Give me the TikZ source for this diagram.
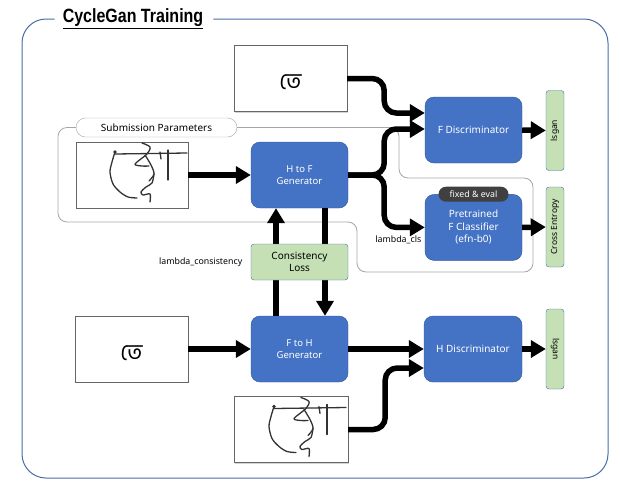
\documentclass[tikz,border=0pt]{standalone}
\usepackage{fontspec}
\setmainfont{Noto Sans}
\newfontfamily\titlefont{Liberation Sans}
\newfontfamily\bnfont[Script=Bengali]{Hind Siliguri}
\usetikzlibrary{arrows.meta,positioning,shadows}

\definecolor{netblue}{HTML}{4472C4}
\definecolor{netedge}{HTML}{2F5597}
\definecolor{lossgreen}{HTML}{C5E0B4}
\definecolor{lossedge}{HTML}{41719C}
\definecolor{framecol}{HTML}{4A6DA7}

\begin{document}
\begin{tikzpicture}[x=1pt, y=-1pt,
  net/.style={draw=netedge, fill=netblue, rounded corners=9pt, text=white, align=center, minimum width=97pt, minimum height=66pt, font=\fontsize{10}{12.5}\selectfont},
  gen/.style={net, font=\fontsize{9.5}{12}\selectfont},
  loss/.style={draw=lossedge, fill=lossgreen, rounded corners=3pt, align=center, font=\fontsize{10}{12}\selectfont},
  vloss/.style={loss, minimum width=80pt, minimum height=18pt, inner sep=1pt, font=\fontsize{8.5}{10}\selectfont},
  sample/.style={draw=gray!80!black, fill=white, minimum width=113pt, minimum height=66pt, drop shadow={shadow xshift=1pt, shadow yshift=-1pt, opacity=0.35, fill=gray}},
  param/.style={draw=gray!70, fill=white, rounded corners=9.5pt, minimum width=161pt, minimum height=19pt, inner sep=0pt, font=\fontsize{10}{12}\selectfont},
  badge/.style={fill=black!75, text=white, rounded corners=7.5pt, minimum width=70pt, minimum height=15pt, inner sep=0pt, font=\fontsize{8.8}{10}\selectfont},
  tag/.style={font=\fontsize{8.8}{10}\selectfont},
  glyph/.style={font=\bnfont\fontsize{23}{24}\selectfont, yshift=-4pt},
  flow/.style={line width=5.5pt, -{Triangle[length=15pt, width=17pt]}},
  region/.style={draw=gray!70, line width=0.8pt, rounded corners=9pt},
  pen/.style={line width=1.3pt, black!80, line cap=round, line join=round}
]
\useasboundingbox (0,0) rectangle (620,488);

% frame and title
\node[font=\titlefont\bfseries\fontsize{16}{18}\selectfont, inner sep=2pt] (title) at (133,19) {\scalebox{1}[1.2]{\underline{CycleGan Training}}};
\draw[framecol, line width=1pt, rounded corners=24pt] ([xshift=-6pt]title.west) -- (22,19) -- (22,478) -- (608,478) -- (608,19) -- ([xshift=8pt]title.east);

% samples
\node[sample] (ftop) at (290.5,78.5) {};
\node[glyph] at (ftop) {তে};
\node[sample, minimum width=112pt] (htop) at (132,175) {};
\node[sample] (fbot) at (131.5,349) {};
\node[glyph] at (fbot) {তে};
\node[sample, minimum width=114pt] (hbot) at (291,429.5) {};

% networks
\node[gen] (hfgen) at (299.5,175) {H to F\\Generator};
\node[gen] (fhgen) at (299.5,349) {F to H\\Generator};
\node[net] (fdisc) at (473.5,130) {F Discriminator};
\node[net, below=31pt of fdisc] (fcls) {Pretrained\\F Classifier\\(efn-b0)};
\node[net, minimum width=98pt] (hdisc) at (473,349) {H Discriminator};
\node[badge] (fixed) at (fcls.north) {fixed \& eval};

% losses
\node[vloss, rotate=90] (lsganf) at (555,130.5) {lsgan};
\node[vloss, rotate=90] (xent) at (555,227) {Cross Entropy};
\node[vloss, rotate=-90] (lsganh) at (555,349) {lsgan};

% submission parameters
\node[param] (subpar) at (156.5,127.5) {Submission Parameters};
\draw[region] (subpar.west) -- (58,127.5) -- (58,222) -- (357,222) -- (357,272) -- (533,272) -- (533,178) -- (399,178) -- (399,127.5) -- (subpar.east);

% handwritten graphemes
\foreach \img in {htop,hbot} {
  \begin{scope}[shift={(\img.center)}]
    \draw[pen] (-17,-21) -- (55,-22);
    \draw[pen] plot[smooth] coordinates {(-17,-23) (-20,-13) (-22,-3) (-19,9) (-12,17) (-4,22) (5,23)};
    \fill[black!80] (-17,-23) circle (1.8);
    \draw[pen] plot[smooth] coordinates {(10,-32) (18,-28) (15,-21) (3,-11) (10,-9) (17,-9)};
    \draw[pen] plot[smooth] coordinates {(13,-20) (19,-10) (22,-1) (17,6)};
    \draw[pen] plot[smooth] coordinates {(22,-1) (20,8) (14,12) (9,17) (11,20) (18,19) (18,27)};
    \draw[pen] (36,-25) -- (36,5);
    \draw[pen] (28,-23) -- (29,-16);
  \end{scope}
}

% connections
\draw[flow, rounded corners=12pt] (ftop.east) -- ++(37,0) |- ([yshift=17pt]fdisc.west);
\draw[flow, rounded corners=12pt] (hfgen.east) -- ++(36,0) |- ([yshift=1pt]fdisc.west);
\draw[flow, rounded corners=12pt] (hfgen.east) -- ++(36,0) |- (fcls.west);
\draw[flow] (htop) -- (hfgen);
\draw[flow] (fdisc.east) -- (lsganf.north);
\draw[flow] (fcls.east) -- (xent.north);
\draw[flow] (fbot) -- (fhgen);
\draw[flow] (fhgen) -- (hdisc);
\draw[flow, rounded corners=12pt] (hbot.east) -- ++(37,0) |- ([yshift=-19pt]hdisc.west);
\draw[flow] (hdisc.east) -- (lsganh.south);
\draw[flow] ([xshift=-23.5pt]fhgen.north) -- ([xshift=-23.5pt]hfgen.south);
\draw[flow] ([xshift=25.5pt]hfgen.south) -- ([xshift=25.5pt]fhgen.north);

% cycle loss
\node[loss, minimum width=97pt, minimum height=36pt] (conloss) at (299.5,262) {Consistency\\Loss};
\node[tag, left=5pt of conloss] (lamcon) {lambda\_consistency};
\node[tag, anchor=north east] (lamcls) at ([yshift=-5pt]fcls.west) {lambda\_cls};
\end{tikzpicture}
\end{document}
